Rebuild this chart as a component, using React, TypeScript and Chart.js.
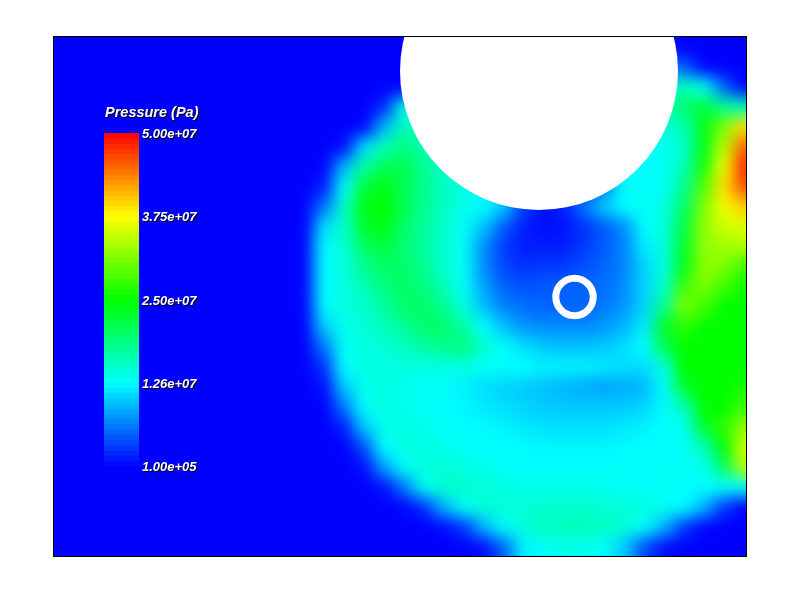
import React, { useEffect, useRef } from "react";
import { Chart, registerables } from "chart.js";

Chart.register(...registerables);

// Pressure in MPa. Each row is one 20px band of the field, columns 12..34 of the grid.
const row00 = [.1,.1,.1,.1,.1,.1,.1,.1,.1,.1,.1,.1,.1,.1,.1,.1,.1,.1,.1,.1,.1,.1,.1];
const row01 = [.1,.1,.1,.1,.1,.1,.1,.1,.1,.1,.1,.1,.1,.1,.1,.1,.1,.1,5,5,.1,.1,.1];
const row02 = [.1,.1,.1,.1,.1,.1,.1,.1,.1,.1,.1,.1,.1,.1,.1,.1,.1,10,14,16,13,5,.3];
const row03 = [.1,.1,.1,.1,2,14,14,14,14,14,14,14,14,14,14,14,14,15,16,20,22,18,16];
const row04 = [.1,.1,.1,.3,9,16,15,15,15,14,14,14,14,14,14,14,14,14,15,16,24,31,39];
const row05 = [.1,.1,.8,11,16,19,16,15,15,14,14,14,14,14,14,14,14,13,13,15,24,34,45];
const row06 = [.1,.2,9,17,21,21,18,15,14,14,13,13,13,13,13,13,13,12.5,13,16,26,37,48];
const row07 = [.1,1.5,13,22,24,21,18,15.5,14,12,8,3,1,1,2,6,12.6,12.8,13,18,29,39,46];
const row08 = [.1,6,15,24,25,21,18,15.5,13.5,12.6,10,3,.8,1.5,6,10,12.5,13,14,20,31,37,40];
const row09 = [.1,11,15,23,24,20,17.5,15,13,9.5,4.5,1.5,.6,1,2.5,4.5,7,12.6,14,22,32,35,36];
const row10 = [.2,12.5,14.5,20,22,19.5,17,15,13,7,3,1.5,1.5,1.5,3,4.5,6.5,11.5,14,23,32,33,33];
const row11 = [.3,12.5,14,18,20,20,18,15,13,7,3.5,2.5,3,3,4,5,6.5,10.5,14,24,32,31,28];
const row12 = [.3,12.5,14,16,19,20,19,16,13,8,5,4,4.5,5,5,5.5,7,10.5,15,28,31,28,25.5];
const row13 = [.2,12.5,14,15,17,20,20,18,14,9.5,6.5,5.5,5,5,5,6,7.5,10.5,18,31,28,25,25];
const row14 = [.1,10,13.5,14.5,16,17.5,20,20,17,12.6,9.5,7.5,7,7,7,7.5,9,11.5,23,27,25,25,25];
const row15 = [.1,6,13,14,14.5,15.5,17,18,19,15,12.8,11,10,9.5,9.5,10,11,12.6,21,25,25,25,25];
const row16 = [.1,2.5,12.6,14,14,14,14,14,14,13,12.8,12.6,12,12,12,11.5,11,11,14,25,25,25,25];
const row17 = [.1,.8,10,13.5,14,13.5,13,12.8,12,11,10.5,10,9.5,9,8.5,8,8.5,9,12.6,23,25,25,26];
const row18 = [.1,.1,6,12.8,14,13.5,13,12.8,12.2,11.5,11,10.5,10,10,10,10,10,10.5,12.4,16,25,25,28];
const row19 = [.1,.1,1.5,10,13.5,14,13.5,13,12.6,12.4,12,11.5,11.2,11,11,11,11.5,12,12.6,13,23,27,32];
const row20 = [.1,.1,.2,4,12.6,14,14,13.5,13,12.8,12.6,12.4,12.2,12.2,12.2,12.2,12.4,12.6,12.8,13,16,25,35];
const row21 = [.1,.1,.1,.8,8,13,14.5,14.5,14,13.5,13,12.8,12.6,12.6,12.6,12.6,12.8,12.8,13,13,13.5,20,34];
const row22 = [.1,.1,.1,.1,1,6,13,15,15,14.5,14,13.5,13.5,13.5,13.5,13.5,13,12.8,12.8,12.6,12.6,13,13];
const row23 = [.1,.1,.1,.1,.1,.3,2.5,9,13,14.5,14.5,14.5,15,15,15,14.5,14.5,14,13.5,12.6,9,3,.3];
const row24 = [.1,.1,.1,.1,.1,.1,.1,.6,3,9,13,14.5,15.5,16,16,15.5,14.5,13,9,3,.4,.1,.1];
const row25 = [.1,.1,.1,.1,.1,.1,.1,.1,.2,.8,5,12,13,13.5,13.5,13,10,4,.8,.2,.1,.1,.1];
const fieldRows = [row00,row01,row02,row03,row04,row05,row06,row07,row08,row09,row10,row11,row12,row13,row14,row15,row16,row17,row18,row19,row20,row21,row22,row23,row24,row25];

const legendTitle = "Pressure (Pa)";
const legendTickValues = [50, 37.5, 25, 12.6, 0.1];
const legendTickLabels = ["5.00e+07", "3.75e+07", "2.50e+07", "1.26e+07", "1.00e+05"];
const legendBandCount = 64;
const holeCentre = { x: 23.75, y: 1.2 };
const ringCentre = { x: 25.525, y: 12.5 };

const colourStops: [number, number[]][] = [
  [0.1, [0, 0, 255]], [12.6, [0, 255, 255]], [25, [0, 255, 0]], [37.5, [255, 255, 0]], [50, [255, 0, 0]],
];
function colourFor(v: number): string {
  for (let i = 1; i < colourStops.length; i++) {
    const [b, cb] = colourStops[i];
    const [a, ca] = colourStops[i - 1];
    if (v <= b) {
      const t = Math.max(0, (v - a) / (b - a));
      return `rgb(${ca.map((c, k) => Math.round(c + (cb[k] - c) * t)).join(",")})`;
    }
  }
  return "rgb(255,0,0)";
}

const FIRST_COL = 12;
function fieldPoints() {
  const pts: { x: number; y: number; v: number }[] = [];
  const nR = fieldRows.length, nC = fieldRows[0].length;
  for (let j = -3; j < nR + 3; j++) {
    for (let k = 0; k < nC + 3; k++) {
      const v = fieldRows[Math.min(nR - 1, Math.max(0, j))][Math.min(nC - 1, k)];
      pts.push({ x: FIRST_COL + k, y: j, v });
    }
  }
  return pts;
}
function legendPoints(shift: number, n: number) {
  const lo = legendTickValues[legendTickValues.length - 1], hi = legendTickValues[0];
  const pts: { x: number; y: number }[] = [];
  for (let i = 0; i <= n; i++) pts.push({ x: 2.875, y: lo + ((hi - lo) * (i + shift)) / legendBandCount });
  return pts;
}

const FRAME = { l: 53.5, t: 36.5, r: 746.5, b: 556.5 };

const fieldPlugin = {
  id: "fieldPlugin",
  beforeDatasetsDraw(chart: any) {
    const c = chart.ctx;
    c.save();
    c.fillStyle = "rgb(0,0,255)";
    c.fillRect(0, 0, chart.width, chart.height);
    c.restore();
  },
  afterDatasetDraw(chart: any, args: any) {
    if (args.index !== 0) return;
    const c = chart.ctx;
    c.save();
    c.filter = "blur(8px)";
    c.drawImage(chart.canvas, 0, 0);
    c.restore();
  },
  afterDatasetsDraw(chart: any) {
    const c = chart.ctx;
    const W = chart.width, H = chart.height;
    c.save();
    c.fillStyle = "#fff";
    c.fillRect(0, 0, W, FRAME.t);
    c.fillRect(0, FRAME.b, W, H - FRAME.b);
    c.fillRect(0, 0, FRAME.l, H);
    c.fillRect(FRAME.r, 0, W - FRAME.r, H);
    c.strokeStyle = "#000";
    c.lineWidth = 1;
    c.strokeRect(FRAME.l, FRAME.t, FRAME.r - FRAME.l, FRAME.b - FRAME.t);

    const drawText = (t: string, x: number, y: number, font: string) => {
      c.font = font;
      c.fillStyle = "#000";
      c.fillText(t, x + 1, y + 1);
      c.fillStyle = "#fff";
      c.fillText(t, x, y);
    };
    c.textAlign = "left";
    c.textBaseline = "alphabetic";
    drawText(legendTitle, 105, 117, 'italic bold 14.5px "Liberation Sans"');
    c.textBaseline = "middle";
    legendTickLabels.forEach((t, i) => {
      const y = chart.scales.pressure.getPixelForValue(legendTickValues[i]);
      drawText(t, 142, y + 1.5, 'italic bold 13px "Liberation Sans"');
    });
    c.restore();
  },
};

export default function App() {
  const ref = useRef<HTMLCanvasElement>(null);
  useEffect(() => {
    document.body.style.margin = "0";
    const bandSegment = {
      borderColor: (ctx: any) => colourFor((ctx.p0.parsed.y + ctx.p1.parsed.y) / 2),
    };
    const chart = new Chart(ref.current as HTMLCanvasElement, {
      type: "scatter",
      data: {
        datasets: [
          {
            label: "Pressure field",
            order: 10,
            data: fieldPoints(),
            pointStyle: "rect",
            pointRadius: 14.4,
            pointBorderWidth: 0,
            pointBackgroundColor: (ctx: any) => colourFor(ctx.raw ? ctx.raw.v : 0),
            clip: false,
          },
          {
            label: "Cylinder",
            order: 8,
            data: [holeCentre],
            pointStyle: "circle",
            pointRadius: 139,
            pointBorderWidth: 0,
            pointBackgroundColor: "#fff",
            clip: false,
          },
          {
            label: "Ring",
            order: 7,
            data: [ringCentre],
            pointStyle: "circle",
            pointRadius: 18.7,
            pointBorderWidth: 7,
            pointBackgroundColor: "rgba(0,0,0,0)",
            pointBorderColor: "#fff",
          },
          {
            label: "Legend bar underlay",
            order: 6,
            yAxisID: "pressure",
            data: legendPoints(0.5, legendBandCount - 1),
            showLine: true,
            pointRadius: 0,
            borderWidth: 35,
            borderCapStyle: "butt",
            borderColor: "rgb(0,0,255)",
            tension: 0,
            segment: bandSegment,
          },
          {
            label: "Legend bar",
            order: 5,
            yAxisID: "pressure",
            data: legendPoints(0, legendBandCount),
            showLine: true,
            pointRadius: 0,
            borderWidth: 35,
            borderCapStyle: "butt",
            borderColor: "rgb(0,0,255)",
            tension: 0,
            segment: bandSegment,
          },
        ] as any,
      },
      options: {
        animation: false,
        responsive: false,
        devicePixelRatio: 1,
        events: [],
        layout: { padding: 0, autoPadding: false },
        plugins: { legend: { display: false }, tooltip: { enabled: false } },
        scales: {
          x: { type: "linear", display: false, min: -3.2, max: 36.8 },
          y: { type: "linear", display: false, reverse: true, min: -2.35, max: 27.65 },
          pressure: { type: "linear", axis: "y", position: "left", display: false, min: -19.98, max: 69.93 },
        },
      },
      plugins: [fieldPlugin],
    } as any);
    return () => chart.destroy();
  }, []);
  return <canvas ref={ref} width={800} height={600} style={{ display: "block", width: 800, height: 600 }} />;
}
